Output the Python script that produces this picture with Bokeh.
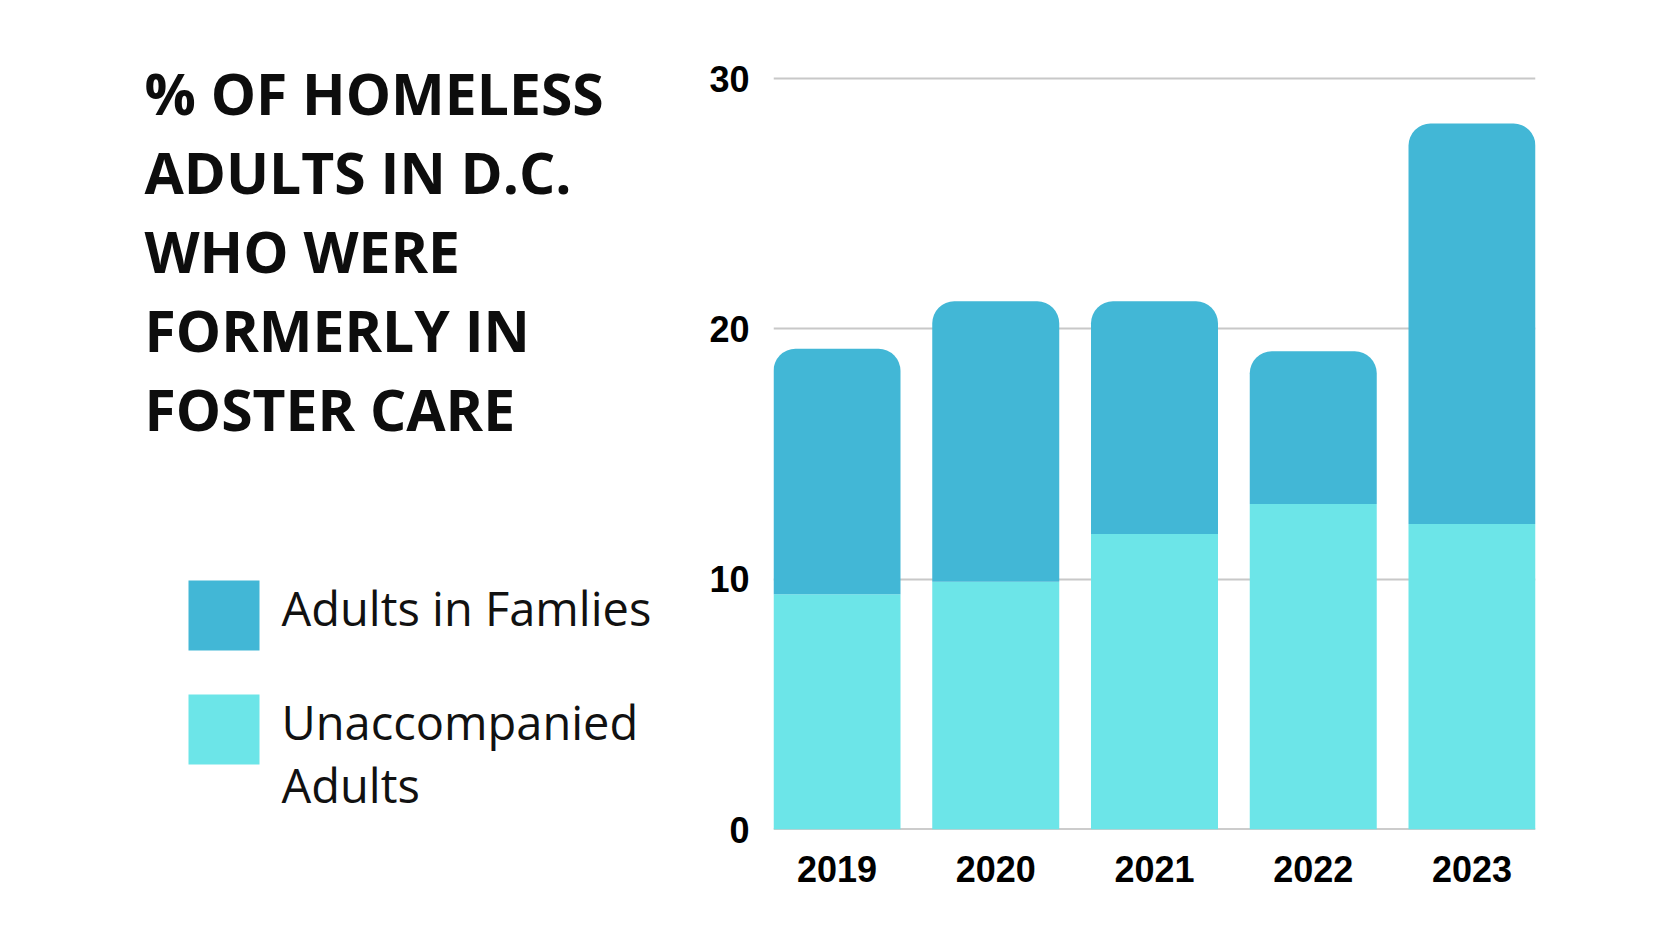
from bokeh.plotting import figure
from bokeh.layouts import row
from bokeh.models import ColumnDataSource, FactorRange, Range1d, FixedTicker, Span
from bokeh.core.properties import value
from bokeh.embed import file_html
from bokeh.resources import INLINE

# data
years = ["2019", "2020", "2021", "2022", "2023"]
unaccompanied = [9.4, 9.9, 11.8, 13.0, 12.2]
families = [9.8, 11.2, 9.3, 6.1, 16.0]
y_ticks = [0, 10, 20, 30]

title_lines = ["% OF HOMELESS", "ADULTS IN D.C.", "WHO WERE", "FORMERLY IN", "FOSTER CARE"]
legend_labels = [["Adults in Famlies"], ["Unaccompanied", "Adults"]]

FAMILY_COLOR = "#42b7d6"
UNACC_COLOR = "#6ce5e8"
H = 929
LEFT_W = 690
RIGHT_W = 974

# left panel: title and legend, drawn in pixel coordinates
left = figure(width=LEFT_W, height=H, x_range=Range1d(0, LEFT_W), y_range=Range1d(H, 0),
              min_border=0, toolbar_location=None, output_backend="svg")
left.frame_align = False
left.axis.visible = False
left.grid.visible = False
left.outline_line_color = None

left.text(x=[144] * len(title_lines), y=[92 + 79 * i for i in range(len(title_lines))],
          text=title_lines, text_font=value("Open Sans"), text_font_style="bold",
          text_font_size="57px", text_color="#0d0d0d", text_baseline="alphabetic")

swatch_top = [580, 694]
left.quad(left=[188, 188], right=[259, 259], top=swatch_top, bottom=[t + 70 for t in swatch_top],
          fill_color=[FAMILY_COLOR, UNACC_COLOR], line_color=None)

lx, ly, lt = [], [], []
for top, lines in zip(swatch_top, legend_labels):
    for j, line in enumerate(lines):
        lx.append(281)
        ly.append(top + 27 + 63 * j)
        lt.append(line)
left.text(x=lx, y=ly, text=lt, text_font=value("Open Sans"), text_font_size="47px",
          text_color="#111111", text_baseline="alphabetic")

# right panel: stacked bars
src = ColumnDataSource(dict(
    years=years,
    unacc=unaccompanied,
    total=[u + f for u, f in zip(unaccompanied, families)],
))

y_end = 30.4
border_top, border_bottom = 68, 100
p = figure(width=RIGHT_W, height=H, x_range=FactorRange(factors=years, range_padding=-0.04),
           y_range=Range1d(0, y_end), min_border_left=83, min_border_right=129,
           min_border_top=border_top, min_border_bottom=border_bottom,
           toolbar_location=None, output_backend="svg")
p.frame_align = False
p.outline_line_color = None

p.add_layout(Span(location=0, dimension="width", line_color="#9a9a9a", line_width=2, level="underlay"))

p.vbar(x="years", top="unacc", bottom=0, width=0.8, source=src,
       fill_color=UNACC_COLOR, line_color=None)
p.vbar(x="years", top="total", bottom="unacc", width=0.8, source=src,
       fill_color=FAMILY_COLOR, line_color=None, border_radius=(22, 22, 0, 0))

p.xgrid.visible = False
p.yaxis.ticker = FixedTicker(ticks=y_ticks)
p.ygrid.ticker = FixedTicker(ticks=y_ticks)
p.ygrid.grid_line_color = "#c8c8c8"
p.ygrid.grid_line_width = 2

for ax in (p.xaxis, p.yaxis):
    ax.axis_line_color = None
    ax.major_tick_line_color = None
    ax.minor_tick_line_color = None
    ax.major_label_text_font = "Liberation Sans"
    ax.major_label_text_font_style = "bold"
    ax.major_label_text_font_size = "36px"
    ax.major_label_text_color = "#000000"

p.yaxis.major_label_standoff = 18
p.xaxis.major_label_standoff = 20

layout = row(left, p)
open("out.html", "w").write(file_html(layout, INLINE))
